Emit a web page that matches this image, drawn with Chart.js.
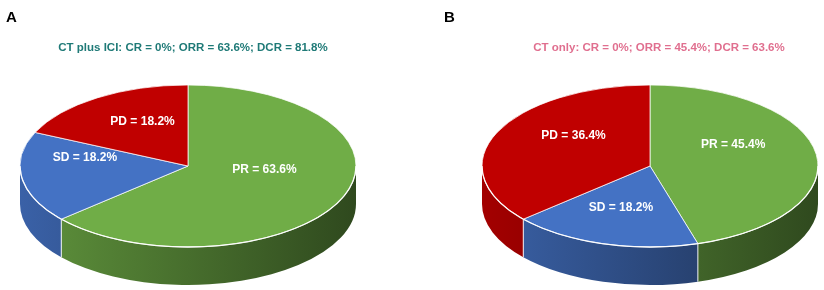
<!DOCTYPE html>
<html><head><meta charset="utf-8">
<script src="https://cdn.jsdelivr.net/npm/chart.js@4"></script>
<style>
html,body{margin:0;padding:0;background:#fff;}
#wrap{position:relative;width:824px;height:290px;overflow:hidden;font-family:"Liberation Sans",Arial,sans-serif;}
.panel{position:absolute;top:0;width:412px;height:290px;}
.letter{position:absolute;font-weight:bold;font-size:15px;line-height:15px;color:#000;}
.sub{position:absolute;font-weight:bold;font-size:11.5px;line-height:13px;white-space:nowrap;transform:translateX(-50%);}
</style></head><body>
<div id="wrap">
 <div class="panel" style="left:0"><canvas id="cA" width="412" height="290"></canvas></div>
 <div class="panel" style="left:412px"><canvas id="cB" width="412" height="290"></canvas></div>
 <div class="letter" style="left:6px;top:9px">A</div>
 <div class="letter" style="left:444px;top:9px">B</div>
 <div class="sub" id="tA" style="left:193px;top:41px;color:#1f7a77"></div>
 <div class="sub" id="tB" style="left:659px;top:41px;color:#e06f8f"></div>
</div>
<script>
// ---- data ----
const categories = ['PR', 'SD', 'PD'];
const ctPlusIci = [63.6, 18.2, 18.2];
const ctOnly = [45.4, 18.2, 36.4];
const titleA = 'CT plus ICI: CR = 0%; ORR = 63.6%; DCR = 81.8%';
const titleB = 'CT only: CR = 0%; ORR = 45.4%; DCR = 63.6%';
const sliceColors = ['#70AD47', '#4472C4', '#C00000'];

document.getElementById('tA').textContent = titleA;
document.getElementById('tB').textContent = titleB;

const TILT = 81 / 168;   // vertical squash of the pie top
const DEPTH = 38;        // thickness of the 3D side
const LIFT = 17;         // perspective shift of label anchor

function shade(hex, f) {
  const n = parseInt(hex.slice(1), 16);
  const r = Math.round(((n >> 16) & 255) * f), g = Math.round(((n >> 8) & 255) * f), b = Math.round((n & 255) * f);
  return `rgb(${r},${g},${b})`;
}

const pie3d = {
  id: 'pie3d',
  beforeDatasetsDraw(chart) {
    const ctx = chart.ctx;
    const arcs = chart.getDatasetMeta(0).data;
    const colors = chart.data.datasets[0].backgroundColor;
    const cx = arcs[0].x, cy = arcs[0].y, rx = arcs[0].outerRadius, ry = rx * TILT;
    arcs.forEach((arc, i) => {
      const s = Math.max(arc.startAngle, 0), e = Math.min(arc.endAngle, Math.PI);
      if (e <= s) return;
      const g = ctx.createLinearGradient(cx - rx, 0, cx + rx, 0);
      g.addColorStop(0, shade(colors[i], 0.85));
      g.addColorStop(1, shade(colors[i], 0.42));
      ctx.beginPath();
      ctx.ellipse(cx, cy, rx, ry, 0, s, e, false);
      ctx.ellipse(cx, cy + DEPTH, rx, ry, 0, e, s, true);
      ctx.closePath();
      ctx.fillStyle = g;
      ctx.fill();
    });
    ctx.strokeStyle = 'rgba(255,255,255,0.9)';
    ctx.lineWidth = 1;
    arcs.forEach(arc => {
      const a = ((arc.startAngle % (2 * Math.PI)) + 2 * Math.PI) % (2 * Math.PI);
      if (a > 0.01 && a < Math.PI - 0.01) {
        const x = cx + rx * Math.cos(a), y = cy + ry * Math.sin(a);
        ctx.beginPath(); ctx.moveTo(x, y); ctx.lineTo(x, y + DEPTH); ctx.stroke();
      }
    });
    ctx.save();
    ctx.translate(cx, cy); ctx.scale(1, TILT); ctx.translate(-cx, -cy);
  },
  afterDatasetsDraw(chart) {
    const ctx = chart.ctx;
    ctx.restore();
    const arcs = chart.getDatasetMeta(0).data;
    const vals = chart.data.datasets[0].data;
    const cx = arcs[0].x, cy = arcs[0].y, rx = arcs[0].outerRadius, ry = rx * TILT;
    ctx.save();
    ctx.strokeStyle = 'rgba(255,255,255,0.95)';
    ctx.lineWidth = 1.3;
    ctx.beginPath(); ctx.ellipse(cx, cy, rx, ry, 0, 0, Math.PI); ctx.stroke();
    ctx.fillStyle = '#ffffff';
    ctx.font = 'bold 12px "Liberation Sans", Arial, sans-serif';
    ctx.textAlign = 'center';
    ctx.textBaseline = 'middle';
    arcs.forEach((arc, i) => {
      const m = (arc.startAngle + arc.endAngle) / 2;
      const sn = Math.sin(m), cs = Math.cos(m);
      const small = (arc.endAngle - arc.startAngle) < Math.PI * 0.6;
      const f = (sn > 0 && small) ? 0.62 : 0.5;
      const x = cx + f * rx * cs;
      const y = cy - LIFT + f * (sn > 0 ? ry + LIFT : ry - LIFT) * sn;
      ctx.fillText(`${chart.data.labels[i]} = ${vals[i]}%`, x, y);
    });
    ctx.restore();
  }
};

function makeChart(id, values, pad) {
  return new Chart(document.getElementById(id), {
    type: 'pie',
    data: { labels: categories, datasets: [{ data: values, backgroundColor: sliceColors, borderColor: '#ffffff', borderWidth: 1, clip: false }] },
    options: {
      responsive: false, animation: false, events: [], radius: 168,
      layout: { padding: pad },
      plugins: { legend: { display: false }, tooltip: { enabled: false }, title: { display: false } }
    },
    plugins: [pie3d]
  });
}
makeChart('cA', ctPlusIci, { left: 0, right: 36, top: 42, bottom: 0 });
makeChart('cB', ctOnly, { left: 64, right: 0, top: 42, bottom: 0 });
</script>
</body></html>
